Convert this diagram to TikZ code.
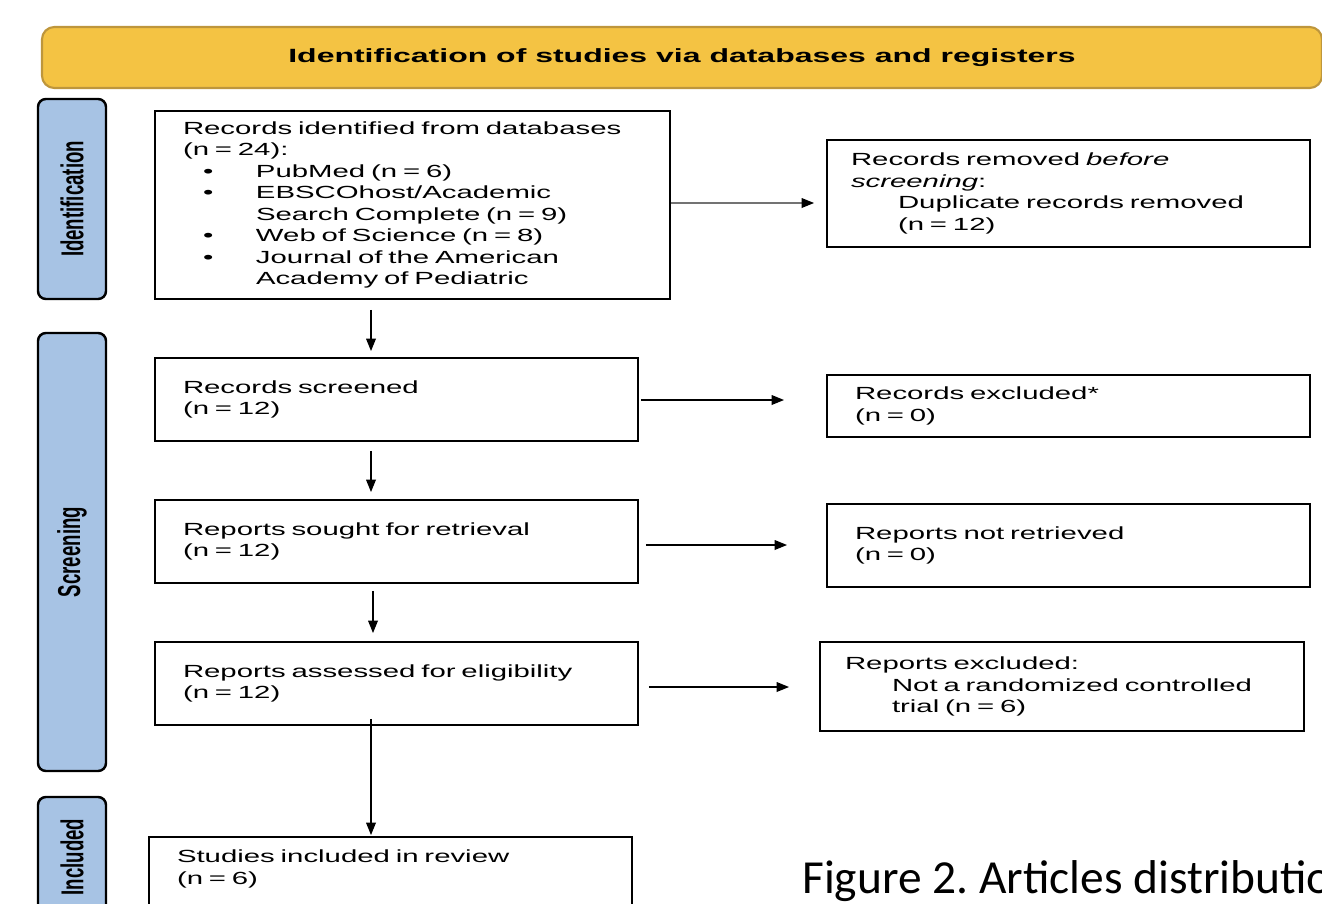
\documentclass[tikz,border=0pt]{standalone}
\usepackage{fontspec}
\newfontfamily\boxfont[FakeStretch=1.67]{Liberation Sans}
\newfontfamily\barfont{Liberation Sans}
\newfontfamily\capfont{Carlito}
\usetikzlibrary{arrows.meta}
\definecolor{bannerfill}{RGB}{244,195,67}
\definecolor{bannerdraw}{RGB}{190,150,60}
\definecolor{phasefill}{RGB}{167,195,228}
\newdimen\pxu \pxu=0.02cm
\newcommand{\bltitem}{\hspace*{20\pxu}\makebox[53\pxu][l]{\textbullet}}
\newcommand{\bltcont}{\hspace*{73\pxu}}
\newcommand{\subgap}{\hspace*{47\pxu}}
\tikzset{
  box/.style={draw, line width=1.1pt, align=left, inner xsep=28\pxu, inner ysep=0pt,
    font=\boxfont\fontsize{10}{12.2}\selectfont},
  phase/.style={draw, fill=phasefill, line width=1.4pt, rounded corners=4.5pt, minimum width=68\pxu},
  phaselabel/.style={rotate=90, yscale=1.7, font=\barfont\bfseries\fontsize{10.6}{12}\selectfont},
  arr/.style={-{Triangle[length=7pt,width=5.5pt,color=black]}, line width=0.7pt}
}
\begin{document}
\frenchspacing
\begin{tikzpicture}[x=0.02cm, y=-0.02cm]
\useasboundingbox (0,0) rectangle (1322,903);
\clip (0,0) rectangle (1322,903);
% banner
\node[draw=bannerdraw, fill=bannerfill, line width=1.2pt, rounded corners=7pt,
  minimum width=1280\pxu, minimum height=61\pxu,
  font=\boxfont\bfseries\fontsize{10.9}{12}\selectfont] (head) at (682,57.5)
  {Identification of studies via databases and registers};
% phases
\node[phase, minimum height=200\pxu] (idbar) at (72,199) {};
\node[phaselabel] (idtext) at (idbar) {Identification};
\node[phase, minimum height=438\pxu] (scrbar) at (72,552) {};
\node[phaselabel] (scrtext) at (scrbar) {Screening};
\node[phase, minimum height=120\pxu] (incbar) at (72,857) {};
\node[phaselabel] (inctext) at (incbar) {Included};
% left column
\node[box, text width=459\pxu, minimum height=188\pxu] (ident) at (412.5,205)
  {Records identified from databases\\
   (n = 24):\\
   \bltitem PubMed (n = 6)\\
   \bltitem EBSCOhost/Academic\\
   \bltcont Search Complete (n = 9)\\
   \bltitem Web of Science (n = 8)\\
   \bltitem Journal of the American\\
   \bltcont Academy of Pediatric};
\node[box, text width=427\pxu, minimum height=83\pxu] (screened) at (396.5,399.5)
  {Records screened\\ (n = 12)};
\node[box, text width=427\pxu, minimum height=83\pxu] (sought) at (396.5,541.5)
  {Reports sought for retrieval\\ (n = 12)};
\node[box, text width=427\pxu, minimum height=83\pxu] (assessed) at (396.5,683.5)
  {Reports assessed for eligibility\\ (n = 12)};
\node[box, text width=427\pxu, minimum height=83\pxu, text depth=25pt] (included) at (390.5,878.5)
  {Studies included in review\\ (n = 6)};
% right column
\node[box, text width=435\pxu, inner xsep=24\pxu, minimum height=107\pxu] (removed) at (1068.5,193.5)
  {Records removed \textit{before}\\
   \textit{screening}:\\
   \subgap Duplicate records removed\\
   \subgap (n = 12)};
\node[box, text width=427\pxu, minimum height=62\pxu] (excluded) at (1068.5,406)
  {Records excluded*\\ (n = 0)};
\node[box, text width=427\pxu, minimum height=83\pxu] (notretr) at (1068.5,545.5)
  {Reports not retrieved\\ (n = 0)};
\node[box, text width=434\pxu, inner xsep=25\pxu, minimum height=89\pxu] (repexcl) at (1062,686.5)
  {Reports excluded:\\
   \subgap Not a randomized controlled\\
   \subgap trial (n = 6)};
% connectors
\coordinate (spine) at (371,0);
\coordinate (spinebis) at (373,0);
\coordinate (rowa) at (0,203);
\coordinate (rowb) at (0,400);
\coordinate (rowc) at (0,545);
\coordinate (rowd) at (0,687);
\draw[arr, shorten <=10\pxu, shorten >=6\pxu] (ident.south -| spine) -- (screened.north -| spine);
\draw[arr, shorten <=9\pxu, shorten >=7\pxu] (screened.south -| spine) -- (sought.north -| spine);
\draw[arr, shorten <=7\pxu, shorten >=8\pxu] (sought.south -| spinebis) -- (assessed.north -| spinebis);
\draw[arr, shorten <=-7\pxu, shorten >=1\pxu] (assessed.south -| spine) -- (included.north -| spine);
\draw[arr, draw=black!55, shorten >=12\pxu] (ident.east |- rowa) -- (removed.west |- rowa);
\draw[arr, shorten <=2\pxu, shorten >=42\pxu] (screened.east |- rowb) -- (excluded.west |- rowb);
\draw[arr, shorten <=7\pxu, shorten >=39\pxu] (sought.east |- rowc) -- (notretr.west |- rowc);
\draw[arr, shorten <=10\pxu, shorten >=30\pxu] (assessed.east |- rowd) -- (repexcl.west |- rowd);
% caption
\node[anchor=base west, inner sep=0pt, font=\capfont\fontsize{27}{30}\selectfont] (caption) at (802,893)
  {Figure 2. Articles distributio};
\end{tikzpicture}
\end{document}
